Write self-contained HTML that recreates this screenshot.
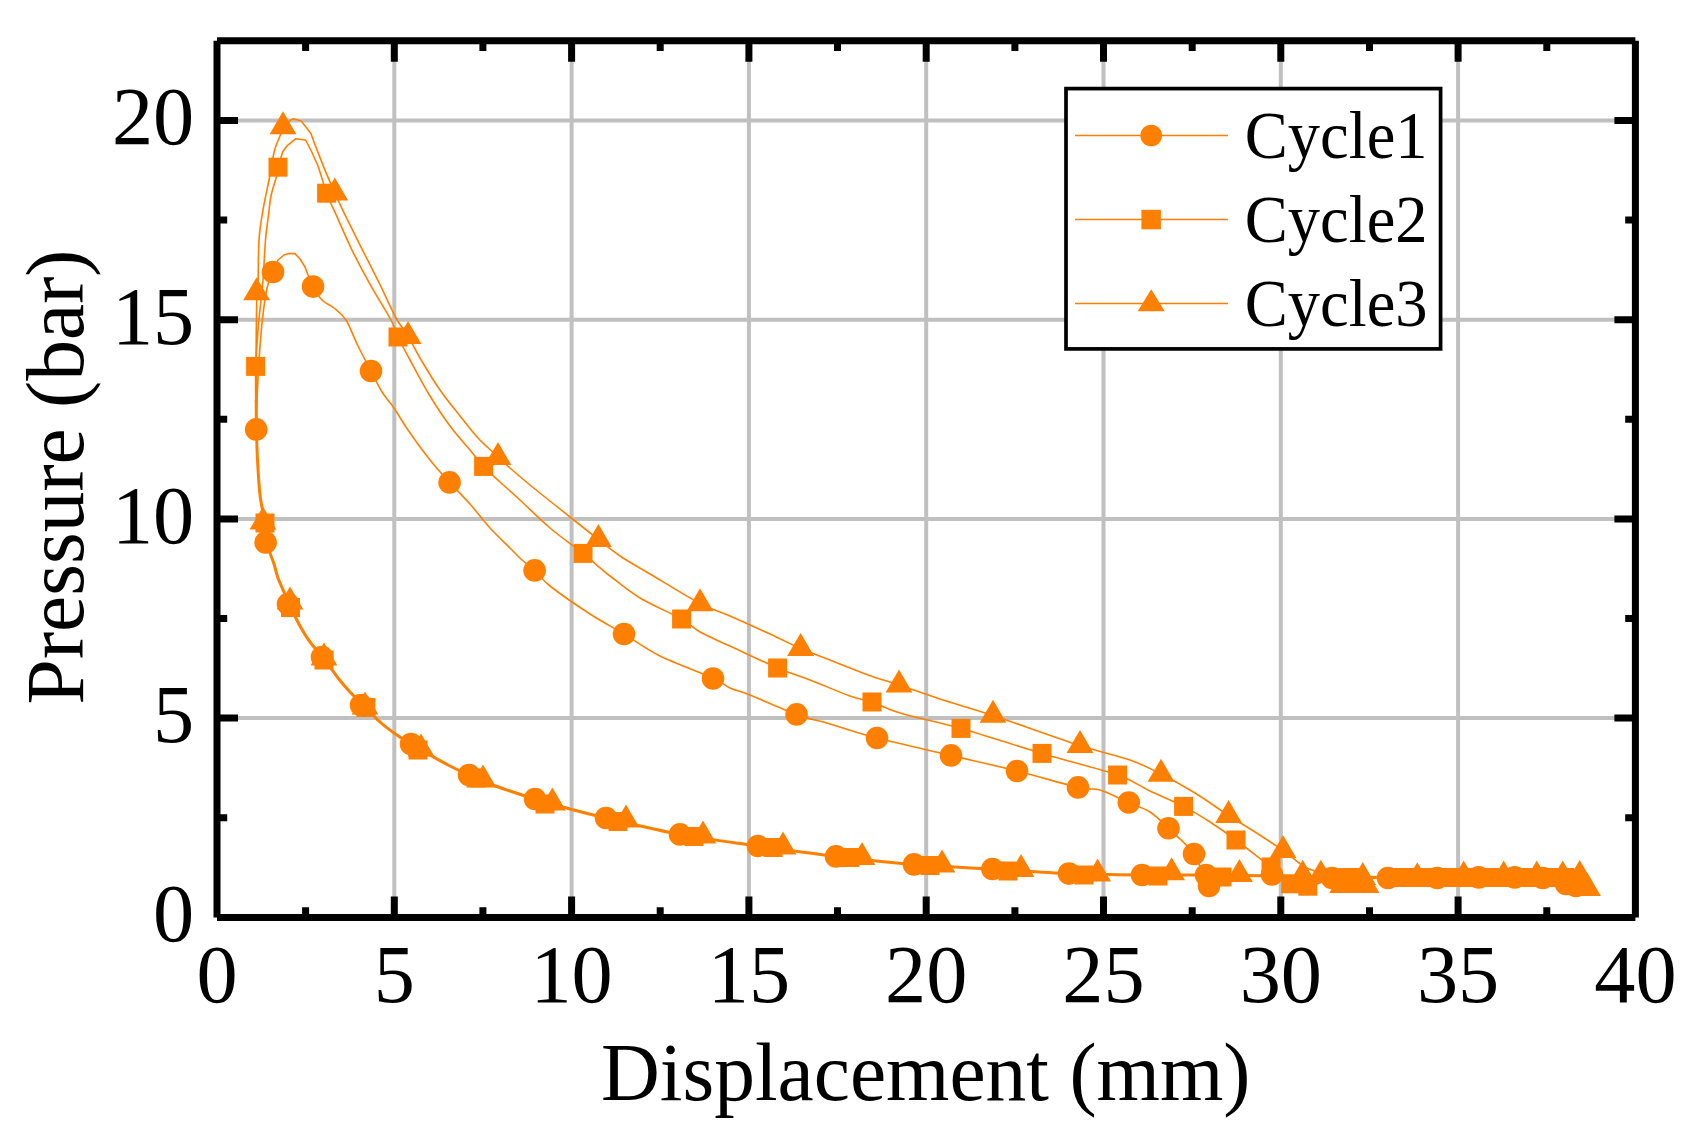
<!DOCTYPE html>
<html lang="en"><head><meta charset="utf-8"><title>Pressure vs Displacement</title>
<style>html,body{margin:0;padding:0;background:#fff}svg{display:block}text{font-family:"Liberation Serif",serif;fill:#000}</style></head><body>
<svg width="1695" height="1148" viewBox="0 0 1695 1148">
<rect width="1695" height="1148" fill="#fff"/>
<path d="M394.3 40.7 V917.4 M571.6 40.7 V917.4 M748.9 40.7 V917.4 M926.2 40.7 V917.4 M1103.5 40.7 V917.4 M1280.8 40.7 V917.4 M1458.1 40.7 V917.4 M217.0 718.1 H1635.4 M217.0 518.9 H1635.4 M217.0 319.7 H1635.4 M217.0 120.4 H1635.4" stroke="#C0C0C0" stroke-width="4" fill="none"/>
<path d="M256.2 429.0 C256.3 424.2 256.5 411.5 257.0 400.0 C257.5 388.5 258.1 373.3 259.0 360.0 C259.9 346.7 261.1 332.0 262.4 320.0 C263.7 308.0 265.2 296.0 267.0 288.0 C268.8 280.0 271.2 276.7 273.0 272.0 L278.0 260.0 L284.0 255.0 L289.0 253.6 L295.0 253.6 L300.0 259.0 L305.0 267.0 L308.0 275.0 L313.0 286.6 C315.3 290.8 318.5 296.4 322.0 300.0 C325.5 303.6 330.0 304.7 334.0 308.0 C338.0 311.3 342.0 313.7 346.0 320.0 C350.0 326.3 353.8 337.5 358.0 346.0 C362.2 354.5 367.0 363.3 371.0 371.0 C375.0 378.7 378.2 385.8 382.0 392.0 C385.8 398.2 389.7 401.7 394.0 408.0 C398.3 414.3 402.0 421.3 408.0 430.0 C414.0 438.7 423.1 451.3 430.0 460.0 C436.9 468.7 442.9 475.1 449.6 482.4 C456.3 489.7 463.3 496.4 470.0 504.0 C476.7 511.6 483.3 520.7 490.0 528.0 C496.7 535.3 504.7 542.7 510.0 548.0 C515.3 553.3 517.8 556.3 522.0 560.0 C526.2 563.7 530.3 566.1 535.0 570.4 C539.7 574.7 540.8 578.7 550.0 586.0 C559.2 593.3 577.7 606.0 590.0 614.0 C602.3 622.0 612.3 627.0 624.0 634.0 C635.7 641.0 645.2 648.7 660.0 656.0 C674.8 663.3 701.3 672.7 713.0 678.0 C724.7 683.3 723.8 685.2 730.0 688.0 C736.2 690.8 738.9 690.6 750.0 695.0 C761.1 699.4 783.3 709.6 796.6 714.4 C809.9 719.2 816.6 720.1 830.0 724.0 C843.4 727.9 856.8 732.8 877.0 738.0 C897.2 743.2 927.7 749.9 951.0 755.4 C974.3 760.9 995.8 765.7 1017.0 771.0 C1038.2 776.3 1064.2 784.2 1078.0 787.4 C1091.8 790.6 1091.6 787.5 1100.0 790.0 C1108.4 792.5 1120.3 798.9 1128.6 802.6 C1136.9 806.3 1143.3 807.7 1150.0 812.0 C1156.7 816.3 1161.2 821.2 1168.5 828.2 C1175.8 835.2 1187.2 844.4 1194.0 854.0 C1200.8 863.6 1203.8 881.7 1209.0 886.0 C1214.2 890.3 1218.2 881.7 1225.0 880.0 C1231.8 878.3 1241.8 876.7 1250.0 876.0 C1258.2 875.3 1270.0 876.0 1274.0 876.0" stroke="#FF8000" stroke-width="1.6" fill="none" stroke-linejoin="round"/>
<path d="M255.6 366.4 C256.0 360.3 257.1 341.1 258.0 330.0 C258.9 318.9 260.2 308.3 261.0 300.0 C261.8 291.7 262.2 290.0 263.0 280.0 C263.8 270.0 264.6 250.8 265.5 240.0 C266.4 229.2 267.6 222.3 268.5 215.0 C269.4 207.7 269.7 202.4 271.0 196.0 C272.3 189.6 275.2 181.5 276.4 176.7 C277.6 171.9 277.0 171.3 278.0 167.2 L282.6 152.0 L287.0 145.8 L295.8 138.7 L305.6 140.0 L311.8 152.0 L318.0 166.0 C320.5 172.9 323.7 185.2 326.6 193.2 C329.6 201.2 331.5 204.6 335.7 213.9 C339.9 223.2 345.9 237.5 351.6 249.3 C357.4 261.1 363.6 272.9 370.2 284.7 C376.8 296.5 386.4 311.3 391.0 320.0 C395.6 328.7 394.8 330.3 398.0 337.0 C401.2 343.7 404.7 350.2 410.0 360.0 C415.3 369.8 423.3 385.0 430.0 396.0 C436.7 407.0 443.3 417.0 450.0 426.0 C456.7 435.0 464.4 443.3 470.0 450.0 C475.6 456.7 478.6 461.1 483.6 466.4 C488.6 471.7 493.9 476.4 500.0 482.0 C506.1 487.6 511.7 492.3 520.0 500.0 C528.3 507.7 539.5 519.1 550.0 528.0 C560.5 536.9 573.0 545.4 583.0 553.4 C593.0 561.4 600.5 568.6 610.0 576.0 C619.5 583.4 628.1 590.8 640.0 598.0 C651.9 605.2 671.6 613.3 681.6 619.0 C691.6 624.7 691.9 627.5 700.0 632.0 C708.1 636.5 717.1 640.0 730.0 646.0 C742.9 652.0 764.3 662.3 777.6 668.0 C790.9 673.7 797.9 675.3 810.0 680.0 C822.1 684.7 839.7 692.3 850.0 696.0 C860.3 699.7 863.7 699.2 872.0 702.0 C880.3 704.8 885.2 708.6 900.0 713.0 C914.8 717.4 937.3 721.7 961.0 728.4 C984.7 735.1 1015.9 745.6 1042.0 753.4 C1068.1 761.2 1099.6 768.7 1117.6 775.0 C1135.6 781.3 1139.0 785.8 1150.0 791.0 C1161.0 796.2 1173.6 801.2 1183.6 806.4 C1193.6 811.6 1201.3 816.4 1210.0 822.0 C1218.7 827.6 1227.7 833.9 1236.0 840.0 C1244.3 846.1 1254.2 854.2 1260.0 858.7 C1265.8 863.2 1265.9 862.8 1271.0 867.0 C1276.1 871.2 1284.6 880.6 1290.7 883.8 C1296.8 887.0 1301.2 886.8 1307.8 886.2 C1314.3 885.6 1321.3 881.4 1330.0 880.0 C1338.7 878.6 1355.0 878.3 1360.0 878.0" stroke="#FF8000" stroke-width="1.6" fill="none" stroke-linejoin="round"/>
<path d="M256.6 292.0 C256.8 290.8 257.6 293.4 258.0 284.7 C258.4 276.0 258.2 252.4 259.0 240.0 C259.8 227.6 261.2 220.8 263.0 210.0 C264.8 199.2 268.1 185.0 270.0 175.0 C271.9 165.0 272.8 156.8 274.6 150.0 C276.4 143.2 279.4 137.9 280.8 134.0 L283.0 126.6 L290.5 120.1 L293.2 118.7 L301.2 121.0 L310.9 133.4 L314.4 143.1 L323.3 166.1 C326.7 174.4 331.3 184.9 334.8 192.9 C338.3 200.9 340.2 205.1 344.5 213.9 C348.8 222.7 354.5 234.0 360.4 245.8 C366.3 257.6 374.1 272.7 380.0 284.7 C385.9 296.7 391.3 309.4 396.0 318.0 C400.7 326.6 404.0 329.3 408.0 336.0 C412.0 342.7 414.7 349.0 420.0 358.0 C425.3 367.0 433.3 380.3 440.0 390.0 C446.7 399.7 453.7 408.0 460.0 416.0 C466.3 424.0 471.7 431.2 478.0 438.0 C484.3 444.8 492.7 451.8 498.0 456.8 C503.3 461.8 504.7 463.3 510.0 468.0 C515.3 472.7 520.0 476.8 530.0 485.0 C540.0 493.2 558.6 507.9 570.0 517.0 C581.4 526.1 590.1 533.0 598.4 539.5 C606.7 546.0 611.4 550.2 620.0 556.0 C628.6 561.8 636.7 566.1 650.0 574.0 C663.3 581.9 686.7 596.5 700.0 603.5 C713.3 610.5 718.3 610.9 730.0 616.0 C741.7 621.1 758.2 628.6 770.0 634.0 C781.8 639.4 790.6 644.2 800.6 648.5 C810.6 652.8 818.8 655.6 830.0 660.0 C841.2 664.4 856.5 670.8 868.0 675.0 C879.5 679.2 887.0 681.0 899.0 685.0 C911.0 689.0 924.3 693.9 940.0 699.0 C955.7 704.1 969.7 707.8 993.0 715.5 C1016.3 723.2 1057.2 738.1 1080.0 745.5 C1102.8 752.9 1116.5 755.2 1130.0 760.0 C1143.5 764.8 1150.2 768.5 1161.0 774.0 C1171.8 779.5 1183.7 786.1 1195.0 793.0 C1206.3 799.9 1218.6 809.0 1228.6 815.5 C1238.6 822.0 1245.9 826.2 1255.0 832.0 C1264.1 837.8 1275.0 844.8 1283.0 850.5 C1291.0 856.2 1298.2 862.8 1303.0 866.0 C1307.8 869.2 1308.3 868.5 1312.0 870.0 C1315.7 871.5 1319.5 873.7 1325.0 875.0 C1330.5 876.3 1335.8 877.5 1345.0 878.0 C1354.2 878.5 1374.2 878.0 1380.0 878.0" stroke="#FF8000" stroke-width="1.6" fill="none" stroke-linejoin="round"/>
<path d="M1584.0 880.0 C1580.0 879.6 1574.0 877.9 1560.0 877.5 C1546.0 877.1 1520.0 877.5 1500.0 877.5 C1480.0 877.5 1458.7 877.5 1440.0 877.5 C1421.3 877.5 1406.3 877.6 1388.0 877.5 C1369.7 877.4 1349.0 877.2 1330.0 877.0 C1311.0 876.8 1294.7 876.3 1274.0 876.0 C1253.3 875.7 1228.0 875.2 1206.0 875.0 C1184.0 874.8 1164.8 875.2 1142.0 875.0 C1119.2 874.8 1094.0 874.6 1069.0 873.6 C1044.0 872.6 1017.8 870.5 992.0 869.0 C966.2 867.5 940.0 866.5 914.0 864.4 C888.0 862.3 862.0 859.5 836.0 856.4 C810.0 853.3 784.0 849.7 758.0 846.0 C732.0 842.3 705.3 839.1 680.0 834.4 C654.7 829.7 624.3 822.2 606.0 818.0 C587.7 813.8 581.8 812.2 570.0 809.0 C558.2 805.8 545.0 802.0 535.0 799.0 C525.0 796.0 517.5 793.5 510.0 791.0 C502.5 788.5 496.8 786.7 490.0 784.0 C483.2 781.3 475.7 778.0 469.0 775.0 C462.3 772.0 456.5 769.3 450.0 766.0 C443.5 762.7 436.5 758.7 430.0 755.0 C423.5 751.3 417.0 747.7 411.0 744.0 C405.0 740.3 399.2 736.7 394.0 733.0 C388.8 729.3 385.2 726.7 380.0 722.0 C374.8 717.3 368.0 710.0 363.0 705.0 C358.0 700.0 354.2 696.5 350.0 692.0 C345.8 687.5 342.4 683.7 338.0 678.0 C333.6 672.3 328.1 664.0 323.4 658.0 C318.7 652.0 313.9 647.3 310.0 642.0 C306.1 636.7 303.3 632.0 300.0 626.0 C296.7 620.0 292.7 611.7 290.0 606.0 C287.3 600.3 286.0 596.7 284.0 592.0 C282.0 587.3 279.7 582.7 278.0 578.0 C276.3 573.3 275.7 569.3 274.0 564.0 C272.3 558.7 269.5 552.8 268.0 546.0 C266.5 539.2 266.3 531.5 265.0 523.0 C263.7 514.5 261.2 505.5 260.0 495.0 C258.8 484.5 258.1 470.8 257.5 460.0 C256.9 449.2 256.7 440.0 256.5 430.0 C256.3 420.0 256.2 405.0 256.2 400.0" stroke="#FF8000" stroke-width="3" fill="none" stroke-linejoin="round"/>
<path d="M256.8 292 L256.3 330 L256 366" stroke="#FF8000" stroke-width="1.6" fill="none"/><path d="M256 366 L256.2 402" stroke="#FF8000" stroke-width="2.6" fill="none"/>
<g fill="#FF8000"><circle cx="256.2" cy="429.4" r="11.3"/><circle cx="273.0" cy="272.0" r="11.3"/><circle cx="313.0" cy="286.6" r="11.3"/><circle cx="371.0" cy="371.0" r="11.3"/><circle cx="449.6" cy="482.4" r="11.3"/><circle cx="534.6" cy="570.4" r="11.3"/><circle cx="624.0" cy="634.0" r="11.3"/><circle cx="713.0" cy="678.5" r="11.3"/><circle cx="796.6" cy="714.4" r="11.3"/><circle cx="877.0" cy="738.0" r="11.3"/><circle cx="951.0" cy="755.4" r="11.3"/><circle cx="1017.0" cy="771.0" r="11.3"/><circle cx="1078.0" cy="787.4" r="11.3"/><circle cx="1128.8" cy="802.5" r="11.3"/><circle cx="1168.5" cy="828.2" r="11.3"/><circle cx="1194.0" cy="854.0" r="11.3"/><circle cx="1209.0" cy="886.0" r="11.3"/><circle cx="265.6" cy="542.4" r="11.3"/><circle cx="288.0" cy="604.0" r="11.3"/><circle cx="322.0" cy="657.0" r="11.3"/><circle cx="361.0" cy="705.0" r="11.3"/><circle cx="411.0" cy="744.0" r="11.3"/><circle cx="469.0" cy="775.0" r="11.3"/><circle cx="535.0" cy="799.0" r="11.3"/><circle cx="606.0" cy="818.0" r="11.3"/><circle cx="680.0" cy="834.4" r="11.3"/><circle cx="758.0" cy="846.0" r="11.3"/><circle cx="836.0" cy="856.4" r="11.3"/><circle cx="914.0" cy="864.4" r="11.3"/><circle cx="992.4" cy="869.0" r="11.3"/><circle cx="1069.0" cy="873.6" r="11.3"/><circle cx="1142.0" cy="875.0" r="11.3"/><circle cx="1206.0" cy="875.0" r="11.3"/><circle cx="1272.0" cy="874.5" r="11.3"/><circle cx="1332.0" cy="878.0" r="11.3"/><circle cx="1388.0" cy="878.0" r="11.3"/><circle cx="1437.3" cy="878.0" r="11.3"/><circle cx="1478.7" cy="877.4" r="11.3"/><circle cx="1514.7" cy="877.4" r="11.3"/><circle cx="1542.7" cy="878.0" r="11.3"/><circle cx="1566.0" cy="884.0" r="11.3"/><circle cx="1576.0" cy="886.0" r="11.3"/><rect x="246.1" y="356.9" width="19" height="19"/><rect x="268.5" y="157.7" width="19" height="19"/><rect x="317.1" y="183.7" width="19" height="19"/><rect x="388.5" y="327.5" width="19" height="19"/><rect x="474.1" y="456.9" width="19" height="19"/><rect x="573.5" y="543.9" width="19" height="19"/><rect x="672.1" y="609.5" width="19" height="19"/><rect x="768.1" y="658.5" width="19" height="19"/><rect x="862.5" y="692.5" width="19" height="19"/><rect x="951.5" y="718.9" width="19" height="19"/><rect x="1032.5" y="743.9" width="19" height="19"/><rect x="1108.1" y="765.5" width="19" height="19"/><rect x="1174.1" y="796.9" width="19" height="19"/><rect x="1226.5" y="830.5" width="19" height="19"/><rect x="1261.5" y="857.5" width="19" height="19"/><rect x="1281.2" y="874.3" width="19" height="19"/><rect x="1298.3" y="876.7" width="19" height="19"/><rect x="255.5" y="513.5" width="19" height="19"/><rect x="281.0" y="598.0" width="19" height="19"/><rect x="314.5" y="650.5" width="19" height="19"/><rect x="356.5" y="698.0" width="19" height="19"/><rect x="408.5" y="740.5" width="19" height="19"/><rect x="466.5" y="768.5" width="19" height="19"/><rect x="535.5" y="794.5" width="19" height="19"/><rect x="608.5" y="812.0" width="19" height="19"/><rect x="684.5" y="827.0" width="19" height="19"/><rect x="763.5" y="838.0" width="19" height="19"/><rect x="840.5" y="848.0" width="19" height="19"/><rect x="920.5" y="856.0" width="19" height="19"/><rect x="998.5" y="861.5" width="19" height="19"/><rect x="1074.5" y="865.5" width="19" height="19"/><rect x="1148.5" y="866.5" width="19" height="19"/><rect x="1212.5" y="867.5" width="19" height="19"/><rect x="1330.5" y="868.0" width="19" height="19"/><rect x="1345.5" y="868.0" width="19" height="19"/><rect x="1390.5" y="868.0" width="19" height="19"/><rect x="1405.5" y="868.0" width="19" height="19"/><rect x="1420.5" y="868.0" width="19" height="19"/><rect x="1435.5" y="868.0" width="19" height="19"/><rect x="1450.5" y="868.0" width="19" height="19"/><rect x="1465.5" y="868.0" width="19" height="19"/><rect x="1480.5" y="868.0" width="19" height="19"/><rect x="1495.5" y="868.0" width="19" height="19"/><rect x="1510.5" y="868.0" width="19" height="19"/><rect x="1525.5" y="868.0" width="19" height="19"/><rect x="1540.5" y="868.0" width="19" height="19"/><rect x="1555.5" y="868.0" width="19" height="19"/><path d="M256.6 277.2 l13.4 23 h-26.8z"/><path d="M283.0 111.2 l13.4 23 h-26.8z"/><path d="M334.8 177.5 l13.4 23 h-26.8z"/><path d="M408.0 321.1 l13.4 23 h-26.8z"/><path d="M498.0 442.1 l13.4 23 h-26.8z"/><path d="M598.4 524.1 l13.4 23 h-26.8z"/><path d="M700.0 588.2 l13.4 23 h-26.8z"/><path d="M800.6 633.1 l13.4 23 h-26.8z"/><path d="M899.0 669.6 l13.4 23 h-26.8z"/><path d="M993.0 699.8 l13.4 23 h-26.8z"/><path d="M1080.0 730.1 l13.4 23 h-26.8z"/><path d="M1161.0 758.8 l13.4 23 h-26.8z"/><path d="M1228.6 800.1 l13.4 23 h-26.8z"/><path d="M1283.0 835.1 l13.4 23 h-26.8z"/><path d="M263.0 506.6 l13.4 23 h-26.8z"/><path d="M290.0 586.6 l13.4 23 h-26.8z"/><path d="M324.0 642.6 l13.4 23 h-26.8z"/><path d="M365.0 691.6 l13.4 23 h-26.8z"/><path d="M421.0 733.6 l13.4 23 h-26.8z"/><path d="M483.0 764.6 l13.4 23 h-26.8z"/><path d="M552.4 787.6 l13.4 23 h-26.8z"/><path d="M626.0 804.6 l13.4 23 h-26.8z"/><path d="M703.0 820.6 l13.4 23 h-26.8z"/><path d="M783.0 831.6 l13.4 23 h-26.8z"/><path d="M862.0 842.0 l13.4 23 h-26.8z"/><path d="M942.0 849.6 l13.4 23 h-26.8z"/><path d="M1021.0 854.0 l13.4 23 h-26.8z"/><path d="M1097.6 858.6 l13.4 23 h-26.8z"/><path d="M1171.6 857.2 l13.4 23 h-26.8z"/><path d="M1239.4 859.0 l13.4 23 h-26.8z"/><path d="M1302.7 859.8 l13.4 23 h-26.8z"/><path d="M1320.8 859.8 l13.4 23 h-26.8z"/><path d="M1362.7 861.9 l13.4 23 h-26.8z"/><path d="M1342.6 870.1 l13.4 23 h-26.8z"/><path d="M1354.0 870.1 l13.4 23 h-26.8z"/><path d="M1366.0 870.1 l13.4 23 h-26.8z"/><path d="M1417.3 862.3 l13.4 23 h-26.8z"/><path d="M1463.7 860.6 l13.4 23 h-26.8z"/><path d="M1503.7 860.6 l13.4 23 h-26.8z"/><path d="M1536.7 860.6 l13.4 23 h-26.8z"/><path d="M1562.7 860.6 l13.4 23 h-26.8z"/><path d="M1579.7 860.1 l13.4 23 h-26.8z"/><path d="M1587.5 873.1 l13.4 23 h-26.8z"/></g>
<path d="M217.0 40.7 V917.4 M217.0 917.4 H1635.4 M217.0 40.7 H1635.4 M1635.4 40.7 V917.4 M305.6 917.4 v-10.2 M305.6 40.7 v10.2 M394.3 917.4 v-21.0 M394.3 40.7 v21.0 M482.9 917.4 v-10.2 M482.9 40.7 v10.2 M571.6 917.4 v-21.0 M571.6 40.7 v21.0 M660.2 917.4 v-10.2 M660.2 40.7 v10.2 M748.9 917.4 v-21.0 M748.9 40.7 v21.0 M837.5 917.4 v-10.2 M837.5 40.7 v10.2 M926.2 917.4 v-21.0 M926.2 40.7 v21.0 M1014.9 917.4 v-10.2 M1014.9 40.7 v10.2 M1103.5 917.4 v-21.0 M1103.5 40.7 v21.0 M1192.2 917.4 v-10.2 M1192.2 40.7 v10.2 M1280.8 917.4 v-21.0 M1280.8 40.7 v21.0 M1369.5 917.4 v-10.2 M1369.5 40.7 v10.2 M1458.1 917.4 v-21.0 M1458.1 40.7 v21.0 M1546.8 917.4 v-10.2 M1546.8 40.7 v10.2 M217.0 817.8 h10.2 M1635.4 817.8 h-10.2 M217.0 718.1 h21.0 M1635.4 718.1 h-21.0 M217.0 618.5 h10.2 M1635.4 618.5 h-10.2 M217.0 518.9 h21.0 M1635.4 518.9 h-21.0 M217.0 419.3 h10.2 M1635.4 419.3 h-10.2 M217.0 319.7 h21.0 M1635.4 319.7 h-21.0 M217.0 220.0 h10.2 M1635.4 220.0 h-10.2 M217.0 120.4 h21.0 M1635.4 120.4 h-21.0" stroke="#000" stroke-width="7" fill="none"/>
<text x="217.0" y="1001.5" font-size="82.3" text-anchor="middle">0</text>
<text x="394.3" y="1001.5" font-size="82.3" text-anchor="middle">5</text>
<text x="571.6" y="1001.5" font-size="82.3" text-anchor="middle">10</text>
<text x="748.9" y="1001.5" font-size="82.3" text-anchor="middle">15</text>
<text x="926.2" y="1001.5" font-size="82.3" text-anchor="middle">20</text>
<text x="1103.5" y="1001.5" font-size="82.3" text-anchor="middle">25</text>
<text x="1280.8" y="1001.5" font-size="82.3" text-anchor="middle">30</text>
<text x="1458.1" y="1001.5" font-size="82.3" text-anchor="middle">35</text>
<text x="1635.4" y="1001.5" font-size="82.3" text-anchor="middle">40</text>
<text x="194.2" y="941.4" font-size="82.3" text-anchor="end">0</text>
<text x="194.2" y="742.1" font-size="82.3" text-anchor="end">5</text>
<text x="194.2" y="542.9" font-size="82.3" text-anchor="end">10</text>
<text x="194.2" y="343.7" font-size="82.3" text-anchor="end">15</text>
<text x="194.2" y="144.4" font-size="82.3" text-anchor="end">20</text>
<text x="925.7" y="1100.4" font-size="81.5" text-anchor="middle">Displacement (mm)</text>
<text transform="translate(82.8 477) rotate(-90)" font-size="81.5" text-anchor="middle">Pressure (bar)</text>
<rect x="1066" y="88.6" width="374.6" height="260.3" fill="#fff" stroke="#000" stroke-width="3.7"/>
<path d="M1075 135.5 H1228" stroke="#FF8000" stroke-width="1.6"/>
<circle cx="1151.2" cy="135.5" r="10.8" fill="#FF8000"/>
<text transform="translate(1244.8 158.0) scale(0.955 1)" font-size="67.6">Cycle1</text>
<path d="M1075 219.5 H1228" stroke="#FF8000" stroke-width="1.6"/>
<rect x="1141.4" y="209.8" width="19.5" height="19.5" fill="#FF8000"/>
<text transform="translate(1244.8 242.0) scale(0.955 1)" font-size="67.6">Cycle2</text>
<path d="M1075 303.5 H1228" stroke="#FF8000" stroke-width="1.6"/>
<path d="M1151.2 289.2 l13.5 22 h-27z" fill="#FF8000"/>
<text transform="translate(1244.8 326.0) scale(0.955 1)" font-size="67.6">Cycle3</text>
</svg></body></html>
